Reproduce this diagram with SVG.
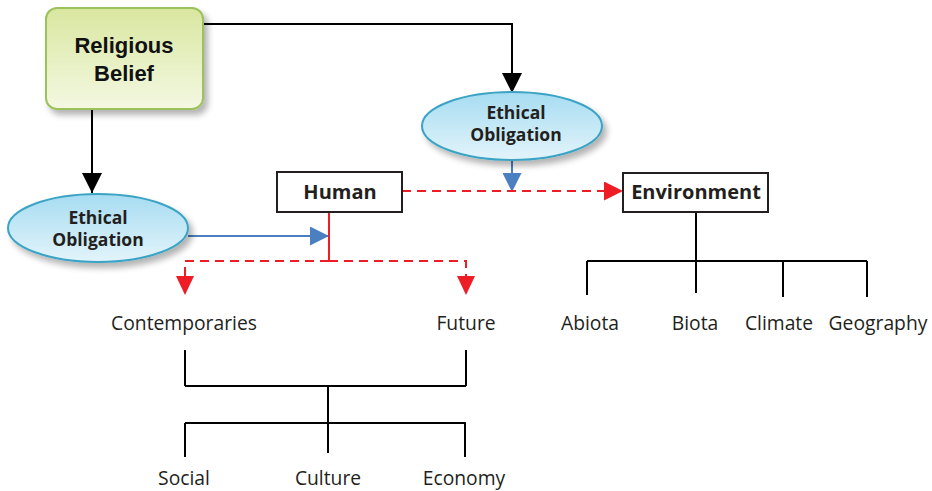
<svg xmlns="http://www.w3.org/2000/svg" width="932" height="491" viewBox="0 0 932 491">
<defs>
<linearGradient id="gGreen" x1="0" y1="0" x2="0" y2="1">
<stop offset="0" stop-color="#d9e7a0"/>
<stop offset="1" stop-color="#f4f8e2"/>
</linearGradient>
<linearGradient id="gBlue" x1="0" y1="0" x2="0" y2="1">
<stop offset="0" stop-color="#a6dcf1"/>
<stop offset="1" stop-color="#e3f4fb"/>
</linearGradient>
<filter id="sh" x="-20%" y="-20%" width="150%" height="160%">
<feGaussianBlur in="SourceAlpha" stdDeviation="3"/>
<feOffset dx="4" dy="5" result="b"/>
<feComponentTransfer><feFuncA type="linear" slope="0.3"/></feComponentTransfer>
<feMerge><feMergeNode/><feMergeNode in="SourceGraphic"/></feMerge>
</filter>
<marker id="aBlack" markerWidth="20" markerHeight="20" viewBox="0 0 20 20" refX="20" refY="10" orient="auto" markerUnits="userSpaceOnUse"><path d="M0,0 L20,10 L0,20 Z" fill="#000"/></marker>
<marker id="aBlue" markerWidth="19" markerHeight="19" viewBox="0 0 19 19" refX="19" refY="9.5" orient="auto" markerUnits="userSpaceOnUse"><path d="M0,0 L19,9.5 L0,19 Z" fill="#4a7fc1"/></marker>
<marker id="aRed" markerWidth="19" markerHeight="19" viewBox="0 0 19 19" refX="19" refY="9.5" orient="auto" markerUnits="userSpaceOnUse"><path d="M0,0 L19,9.5 L0,19 Z" fill="#ee1c25"/></marker>
<style>
.ln{fill:none;stroke:#000;stroke-width:2}
.blk{fill:none;stroke:#000;stroke-width:2}
.blu{fill:none;stroke:#4a7fc1;stroke-width:2}
.red{fill:none;stroke:#ee1c25;stroke-width:2}
.dash{stroke-dasharray:9,6}
.ell{fill:url(#gBlue);stroke:#3aa3c4;stroke-width:2}
.box{fill:#fff;stroke:#231f20;stroke-width:2}
.eo{font-family:"Open Sans","Noto Sans",sans-serif;font-weight:bold;font-size:17.5px;fill:#231f20;text-anchor:middle}
.bx{font-family:"Open Sans","Noto Sans",sans-serif;font-weight:bold;font-size:20px;fill:#231f20;text-anchor:middle}
.lb{font-family:"Open Sans","Noto Sans",sans-serif;font-size:19.3px;fill:#231f20;text-anchor:middle}
.rb{font-family:"Liberation Sans",Arial,sans-serif;font-weight:bold;font-size:22px;fill:#111;text-anchor:middle}
</style>
</defs>

<g id="connectors">
<path class="blk" d="M203,24 H512 V93" marker-end="url(#aBlack)"/>
<path class="blk" d="M92,109 V193" marker-end="url(#aBlack)"/>
<path class="blu" d="M188,236 H329" marker-end="url(#aBlue)"/>
<path class="blu" d="M512,161 V192" marker-end="url(#aBlue)"/>
<path class="red" d="M329,212 V261"/>
<path class="red dash" d="M329,261 H185 V276"/>
<path class="red dash" d="M329,261 H466 V276"/>
<path d="M176,276 L194,276 L185,295 Z" fill="#ee1c25"/>
<path d="M457,276 L475,276 L466,295 Z" fill="#ee1c25"/>
<path class="red dash" d="M402,191 H623" marker-end="url(#aRed)"/>
<path class="ln" d="M696,212 V261 M587,261 H867 M587,261 V295 M696,261 V293 M783,261 V297 M867,261 V297"/>
<path class="ln" d="M185,350 V386 M466,350 V386 M185,386 H466 M328,386 V453 M185,423 H466 M185,423 V457 M465,423 V457"/>
</g>

<g id="religious-belief">
<rect x="46" y="8" width="157" height="101" rx="11" ry="11" fill="url(#gGreen)" stroke="#9dc15c" stroke-width="2" filter="url(#sh)"/>
<text class="rb" x="124" y="53">Religious</text>
<text class="rb" x="124" y="81">Belief</text>
</g>

<g id="ethical-obligation-1">
<ellipse class="ell" cx="98" cy="228" rx="90" ry="34" filter="url(#sh)"/>
<text class="eo" x="98" y="224">Ethical</text>
<text class="eo" x="98" y="246">Obligation</text>
</g>

<g id="ethical-obligation-2">
<ellipse class="ell" cx="512" cy="126" rx="90" ry="34" filter="url(#sh)"/>
<text class="eo" x="516" y="119">Ethical</text>
<text class="eo" x="516" y="141">Obligation</text>
</g>

<g id="human">
<rect class="box" x="277" y="172" width="125" height="40"/>
<text class="bx" x="340" y="199">Human</text>
</g>

<g id="environment">
<rect class="box" x="623" y="173" width="145" height="39"/>
<text class="bx" x="696" y="199">Environment</text>
</g>

<g id="contemporaries"><text class="lb" x="184" y="330">Contemporaries</text></g>
<g id="future"><text class="lb" x="466" y="330">Future</text></g>
<g id="abiota"><text class="lb" x="590" y="330">Abiota</text></g>
<g id="biota"><text class="lb" x="695" y="330">Biota</text></g>
<g id="climate"><text class="lb" x="779" y="330">Climate</text></g>
<g id="geography"><text class="lb" x="878" y="330">Geography</text></g>
<g id="social"><text class="lb" x="184" y="485">Social</text></g>
<g id="culture"><text class="lb" x="328" y="485">Culture</text></g>
<g id="economy"><text class="lb" x="464" y="485">Economy</text></g>
</svg>
